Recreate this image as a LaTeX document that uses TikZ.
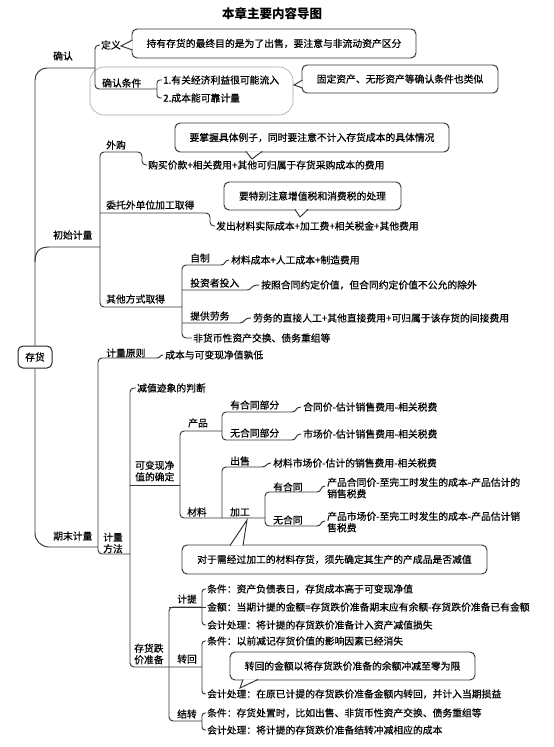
\documentclass[tikz,border=0pt]{standalone}
\usepackage{fontspec}
\setmainfont{Noto Sans CJK SC}[UprightFeatures={FakeBold=0.5}]
\begin{document}
\begin{tikzpicture}[x=1pt,y=-1pt,
  txt/.style={anchor=west,inner sep=0pt,font=\fontsize{9.8}{11.5}\selectfont,align=left},
  ln/.style={line width=0.95pt,draw=black!80,rounded corners=4pt},
  sc/.style={line width=0.95pt,draw=black!80},
  cbox/.style={draw=black!80,line width=0.95pt,rounded corners=5pt,fill=white,inner sep=0pt,font=\fontsize{9.8}{12}\selectfont},
  tip/.style={draw=black!80,line width=0.95pt,fill=white,line join=miter},
  rootbox/.style={draw=black!85,line width=1pt,rounded corners=5pt,inner sep=0pt,minimum width=34pt,minimum height=22pt,font=\fontsize{9.8}{12}\selectfont}
]
\useasboundingbox (0,0) rectangle (554,747);
\fill[white] (0,0) rectangle (554,747);

% title
\node[inner sep=0pt,font=\bfseries\fontsize{12.5}{14}\selectfont] (title) at (272,14) {本章主要内容导图};

% ---------------- 确认 ----------------
\draw[gray!70,line width=0.6pt,rounded corners=14pt] (90,67) rectangle (293,115);
\node[txt] (qr) at (53,56) {确认};
\node[txt] (dy) at (101,45) {定义};
\node[cbox,minimum width=284pt,minimum height=29pt] (bdy) at (274,43.5) {持有存货的最终目的是为了出售，要注意与非流动资产区分};
\path[tip] (132.6,40) -- (121,46) -- (132.6,50);
\node[txt] (qrtj) at (102,83) {确认条件};
\node[txt] (c1) at (163,80) {1.有关经济利益很可能流入};
\node[txt] (c2) at (163,98) {2.成本能可靠计量};
\node[cbox,minimum width=196pt,minimum height=28pt] (bgd) at (400,79) {固定资产、无形资产等确认条件也类似};
\path[tip] (302.6,80) -- (294,85) -- (302.6,88);

\draw[ln] ([xshift=-1pt]dy.west) -- (95,45) -- (95,89) -- (157,89);
\draw[ln,rounded corners=3pt] ([xshift=-1pt]c1.west) -- (157,80) -- (157,98) -- ([xshift=-1pt]c2.west);

% ---------------- 初始计量 ----------------
\node[cbox,minimum width=274pt,minimum height=29pt] (bwg) at (312,137.5) {要掌握具体例子，同时要注意不计入存货成本的具体情况};
\path[tip] (246,151.4) -- (252,159) -- (262,151.4);
\node[txt] (wg) at (106,145) {外购};
\node[txt] (wg1) at (148,165) {购买价款+相关费用+其他可归属于存货采购成本的费用};
\node[cbox,minimum width=177pt,minimum height=28pt] (bwt) at (312.5,196) {要特别注意增值税和消费税的处理};
\path[tip] (295,209.4) -- (300,217) -- (308,209.4);
\node[txt] (wt) at (106,205) {委托外单位加工取得};
\node[txt] (wt1) at (216,226) {发出材料实际成本+加工费+相关税金+其他费用};
\node[txt] (cs) at (53,235) {初始计量};
\node[txt] (zz) at (190,258) {自制};
\node[txt] (zz1) at (231,260) {材料成本+人工成本+制造费用};
\node[txt] (tz) at (190,283) {投资者投入};
\node[txt] (tz1) at (261,285) {按照合同约定价值，但合同约定价值不公允的除外};
\node[txt] (qt) at (106,299) {其他方式取得};
\node[txt] (lw) at (190,316) {提供劳务};
\node[txt] (lw1) at (253,318) {劳务的直接人工+其他直接费用+可归属于该存货的间接费用};
\node[txt] (fh) at (193,338) {非货币性资产交换、债务重组等};

\draw[ln] (182,307) -- (100,307) -- (100,152) -- (142,152) -- (142,165) -- ([xshift=-1pt]wg1.west);
\draw[ln] (100,213) -- (210,213) -- (210,226) -- ([xshift=-1pt]wt1.west);
\draw[ln] (221,265) -- (182,265) -- (182,338) -- ([xshift=-1pt]fh.west);
\draw[sc] (221,265) .. controls (226,265) and (224,260) .. ([xshift=-2pt]zz1.west);
\draw[sc] (182,290) -- (247,290) .. controls (252,290) and (250,285) .. ([xshift=-2pt]tz1.west);
\draw[sc] (182,323) -- (240,323) .. controls (245,323) and (243,318) .. ([xshift=-2pt]lw1.west);

% ---------------- root ----------------
\node[rootbox] (ch) at (35,357) {存货};
\draw[ln,rounded corners=12pt] (ch.north) -- (35,68) -- (95,68);
\draw[sc] (35,262) .. controls (35,252) and (39,247) .. (49,247) -- (100,247);
\draw[ln,rounded corners=14pt] (ch.south) -- (35,547) -- (98,547);

% ---------------- 期末计量 ----------------
\node[txt] (qm) at (53,536) {期末计量};
\node[txt] (jy) at (106,353) {计量原则};
\node[txt] (jy1) at (165,355) {成本与可变现净值孰低};
\node[txt] (jf) at (103,543) {计量\\方法};
\draw[ln] (157,358) -- (98,358) -- (98,554) -- (130,554);
\draw[sc] (157,358) .. controls (161,358) and (159,355) .. ([xshift=-2pt]jy1.west);

\node[txt] (jz) at (137,388) {减值迹象的判断};
\node[txt] (kb) at (135,471) {可变现净\\值的确定};
\node[txt] (db) at (134,654) {存货跌\\价准备};
\draw[ln] ([xshift=-1pt]jz.west) -- (130,388) -- (130,667) -- (202,667);
\draw[sc] (130,485) -- (180,485);

\node[txt] (cp) at (188,423) {产品};
\node[txt] (yh) at (230,405) {有合同部分};
\node[txt] (yh1) at (303,407) {合同价-估计销售费用-相关税费};
\node[txt] (wh) at (230,433) {无合同部分};
\node[txt] (wh1) at (303,434) {市场价-估计销售费用-相关税费};
\node[txt] (cs2) at (230,461) {出售};
\node[txt] (cs21) at (273,463) {材料市场价-估计的销售费用-相关税费};
\node[txt] (yht) at (273,487) {有合同};
\node[txt] (yht1) at (327,488) {产品合同价-至完工时发生的成本-产品估计的\\销售税费};
\node[txt] (cl) at (187,512) {材料};
\node[txt] (jg) at (230,512) {加工};
\node[txt] (wht) at (273,520) {无合同};
\node[txt] (wht1) at (327,522) {产品市场价-至完工时发生的成本-产品估计销\\售税费};

\draw[ln] (222,431) -- (180,431) -- (180,518) -- (265,518);
\draw[ln] (292,412) -- (222,412) -- (222,440) -- (292,440);
\draw[sc] (292,412) .. controls (297,412) and (295,407) .. ([xshift=-2pt]yh1.west);
\draw[sc] (292,440) .. controls (297,440) and (295,434) .. ([xshift=-2pt]wh1.west);
\draw[ln] (222,518) -- (222,467) -- (262,467);
\draw[sc] (262,467) .. controls (267,467) and (266,463) .. ([xshift=-2pt]cs21.west);
\draw[ln] (317,492) -- (265,492) -- (265,526) -- (317,526);
\draw[sc] (317,492) .. controls (322,492) and (320,486) .. (325,486);
\draw[sc] (317,526) .. controls (322,526) and (320,521) .. (325,521);

\node[cbox,minimum width=305pt,minimum height=29pt] (bjg) at (334.5,559.5) {对于需经过加工的材料存货，须先确定其生产的产成品是否减值};
\path[tip] (230,545.6) -- (247,520) -- (243,545.6);

% ---------------- 存货跌价准备 ----------------
\node[txt] (jt) at (177,599) {计提};
\node[txt] (jt1) at (207,589) {条件：资产负债表日，存货成本高于可变现净值};
\node[txt] (jt2) at (207,607) {金额：当期计提的金额=存货跌价准备期末应有余额-存货跌价准备已有金额};
\node[txt] (jt3) at (207,625) {会计处理：将计提的存货跌价准备计入资产减值损失};
\node[txt] (zh) at (177,659) {转回};
\node[txt] (zh1) at (207,641) {条件：以前减记存货价值的影响因素已经消失};
\node[cbox,minimum width=245pt,minimum height=28pt] (bzh) at (352.5,666) {转回的金额以将存货跌价准备的余额冲减至零为限};
\path[tip] (243,679.4) -- (240,688) -- (258,679.4);
\node[txt] (zh2) at (207,694) {会计处理：在原已计提的存货跌价准备金额内转回，并计入当期损益};
\node[txt] (jzz) at (177,714) {结转};
\node[txt] (jz1) at (207,713) {条件：存货处置时，比如出售、非货币性资产交换、债务重组等};
\node[txt] (jz2) at (207,730) {会计处理：将计提的存货跌价准备结转冲减相应的成本};

\draw[ln] (202,607) -- (169,607) -- (169,721) -- (202,721);
\draw[sc] (169,607) -- ([xshift=-1pt]jt2.west);
\draw[ln,rounded corners=3pt] ([xshift=-1pt]jt1.west) -- (202,589) -- (202,625) -- ([xshift=-1pt]jt3.west);
\draw[ln,rounded corners=3pt] ([xshift=-1pt]zh1.west) -- (202,641) -- (202,694) -- ([xshift=-1pt]zh2.west);
\draw[ln,rounded corners=3pt] ([xshift=-1pt]jz1.west) -- (202,713) -- (202,730) -- ([xshift=-1pt]jz2.west);
\end{tikzpicture}
\end{document}
